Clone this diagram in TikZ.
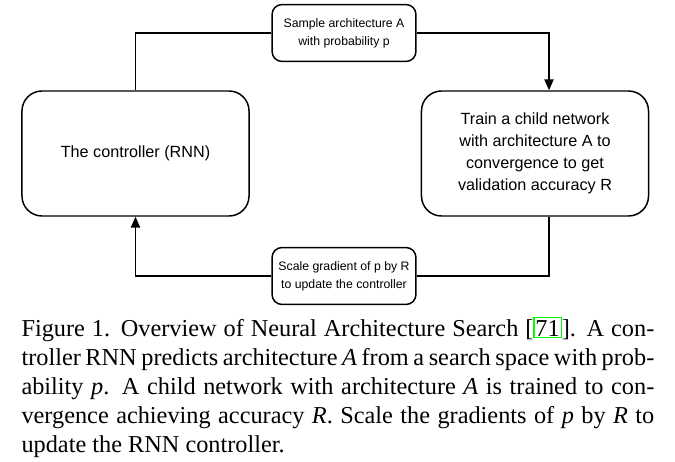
\documentclass[tikz,border=0pt]{standalone}
\usepackage{fontspec}
\setmainfont{Liberation Serif}
\newfontfamily\diagfont{Liberation Sans}
\usepackage{xcolor}
\usepackage{tikz}
\usetikzlibrary{calc,arrows.meta,positioning}
\definecolor{inkc}{HTML}{000000}
\definecolor{linkc}{HTML}{00FF00}
\tikzset{
  ln/.style={line width=0.5pt,inkc},
  ar/.style={-{Triangle[length=4pt,width=3.4pt]},line width=0.5pt,inkc},
  bigbox/.style={draw=inkc,line width=0.55pt,rounded corners=7.4pt,minimum width=84.1pt,minimum height=46.3pt,align=center,inner sep=0pt,font=\diagfont\fontsize{6}{8.1}\selectfont},
  lblbox/.style={draw=inkc,line width=0.55pt,rounded corners=3.7pt,fill=white,minimum width=53.3pt,minimum height=21.1pt,align=center,inner sep=0pt,font=\diagfont\fontsize{4.55}{6.6}\selectfont},
  capt/.style={anchor=north west,inner sep=0pt,text width=234.4pt,align=justify,font=\fontsize{9}{10.8}\selectfont}
}
\newcommand{\citebox}[1]{{\setlength{\fboxsep}{0.35pt}\setlength{\fboxrule}{0.4pt}\fcolorbox{linkc}{white}{\rule{0pt}{6.5pt}#1}}}

\begin{document}
\begin{tikzpicture}[x=0.3704pt,y=0.3704pt]
\useasboundingbox (0,0) rectangle (675,461);
\node[bigbox] (ctrl) at (135.5,307.5) {The controller (RNN)};
\node[bigbox] (train) at (535,307.5) {Train a child network\\with architecture A to\\convergence to get\\validation accuracy R};
\node[lblbox] (sample) at (344,428) {Sample architecture A\\with probability p};
\node[lblbox] (scale) at (344,185) {Scale gradient of p by R\\to update the controller};
\draw[ln] (ctrl.north) |- (sample.west);
\draw[ar] (sample.east) -| ($(train.north)+(14,0)$);
\draw[ln] ($(train.south)+(14,0)$) |- (scale.east);
\draw[ar] (scale.west) -| (ctrl.south);
% caption under the figure
\node[capt] (cap) at (21,145) {Figure 1. Overview of Neural Architecture Search [\citebox{71}]. A con-\linebreak troller RNN predicts architecture \textit{A} from a search space with prob-\linebreak ability \textit{p}. A child network with architecture \textit{A} is trained to con-\linebreak vergence achieving accuracy \textit{R}. Scale the gradients of \textit{p} by \textit{R} to\linebreak update the RNN controller.};
\end{tikzpicture}
\end{document}
